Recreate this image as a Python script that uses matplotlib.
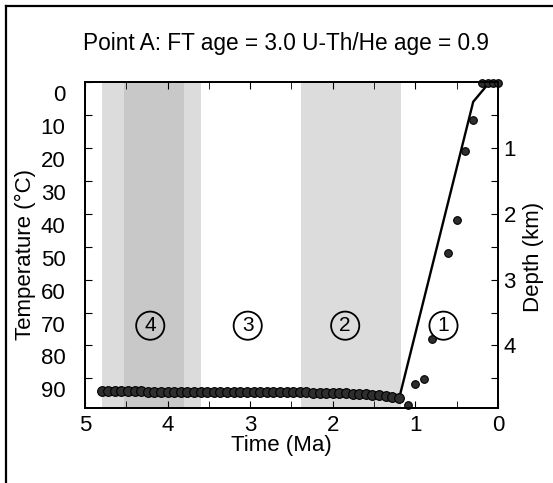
import matplotlib
matplotlib.use("Agg")
from matplotlib import pyplot as plt
from matplotlib.transforms import ScaledTranslation
from matplotlib.lines import Line2D
import numpy as np

plt.rcParams['font.family'] = ['Liberation Sans', 'DejaVu Sans']

# modelled cooling path (solid line)
path_time = [1.19, 0.30, 0.10]
path_temp = [95.4, 6.0, 0.0]

# predicted points, flat part (time in Ma, temperature in C)
flat_time = [4.80, 4.72, 4.64, 4.56, 4.48, 4.40, 4.32, 4.24, 4.16, 4.08,
             4.00, 3.92, 3.84, 3.76, 3.68, 3.60, 3.52, 3.44, 3.36, 3.28,
             3.20, 3.12, 3.04, 2.96, 2.88, 2.80, 2.72, 2.64, 2.56, 2.48,
             2.40, 2.32, 2.24, 2.16, 2.08, 2.00, 1.92, 1.84, 1.76, 1.68,
             1.60, 1.52, 1.44, 1.36, 1.28, 1.20]
flat_temp = [93.8, 93.8, 93.9, 93.9, 93.9, 93.9, 93.9, 94.0, 94.0, 94.0,
             94.0, 94.0, 94.0, 94.0, 94.0, 94.0, 94.0, 94.0, 94.1, 94.1,
             94.1, 94.1, 94.1, 94.1, 94.1, 94.1, 94.2, 94.2, 94.2, 94.2,
             94.2, 94.2, 94.3, 94.3, 94.3, 94.4, 94.4, 94.5, 94.6, 94.7,
             94.8, 95.0, 95.2, 95.4, 95.7, 96.0]

# predicted points, exhumation part
exh_time = [1.09, 1.00, 0.89, 0.80, 0.60, 0.50, 0.40, 0.30, 0.19, 0.12, 0.06, 0.0]
exh_temp = [98.0, 91.7, 90.1, 77.9, 51.8, 41.8, 21.1, 11.5, 0.2, 0.2, 0.2, 0.2]

# stage bands and labels
bands = [(4.80, 3.60), (2.38, 1.18)]
inner_band = (4.53, 3.80)
stage_labels = ['4', '3', '2', '1']
stage_time = [4.21, 3.03, 1.85, 0.66]
stage_temp = 74

temp_ticks = [0, 10, 20, 30, 40, 50, 60, 70, 80, 90]
depth_ticks = [0.5, 1, 1.5, 2, 2.5, 3, 3.5, 4, 4.5]
depth_labels = ['', '1', '', '2', '', '3', '', '4', '']
gradient = 20.0  # C per km

W, H = 553, 483
fig = plt.figure(figsize=(W / 100, H / 100), dpi=100)

# frame around the figure (only top and left show in the original)
fig.add_artist(Line2D([6 / W, 6 / W], [0, 1 - 6 / H], color='black', lw=1.6))
fig.add_artist(Line2D([6 / W, 1], [1 - 6 / H, 1 - 6 / H], color='black', lw=1.6))

ax = fig.add_axes([85 / W, 1 - 408 / H, 413 / W, 326 / H])

for b in bands:
    ax.axvspan(b[0], b[1], color='#dcdcdc', lw=0, zorder=0)
ax.axvspan(inner_band[0], inner_band[1], color='#c8c8c8', lw=0, zorder=0)

ax.plot(path_time, path_temp, color='black', lw=1.7, zorder=3)
ax.plot(flat_time, flat_temp, 'o', ms=7, mfc='#2e2e2e', mec='black', mew=0.8, zorder=4)
ax.plot(exh_time, exh_temp, 'o', ms=5.5, mfc='#2e2e2e', mec='black', mew=0.8,
        zorder=4, clip_on=False)

for lab, t in zip(stage_labels, stage_time):
    ax.text(t, stage_temp, lab, ha='center', va='center', fontsize=15,
            bbox=dict(boxstyle='circle,pad=0.22', fc='none', ec='black', lw=1.3))

ax.set_xlim(5, 0)
ax.set_ylim(99, 0)
ax.set_xticks([5, 4, 3, 2, 1, 0])
ax.set_xticks([4.5, 3.5, 2.5, 1.5, 0.5], minor=True)
ax.set_yticks(temp_ticks)
ax.tick_params(axis='x', which='both', direction='in', top=True, length=5,
               labelsize=16, pad=5)
ax.tick_params(axis='y', direction='in', length=5, labelsize=16, pad=14)
# left labels sit a little below their ticks in the original
for lab in ax.get_yticklabels():
    lab.set_transform(lab.get_transform() + ScaledTranslation(0, -11 / 100, fig.dpi_scale_trans))

ax2 = ax.twinx()
ax2.set_ylim(99 / gradient, 0)
ax2.set_yticks(depth_ticks)
ax2.set_yticklabels(depth_labels)
ax2.tick_params(axis='y', direction='in', length=5, labelsize=16, pad=4)

for a in (ax, ax2):
    for s in a.spines.values():
        s.set_linewidth(1.3)

fig.text(286 / W, 1 - 50 / H, 'Point A: FT age = 3.0 U-Th/He age = 0.9',
         ha='center', va='baseline', fontsize=16.3)
fig.text(281 / W, 1 - 445 / H, 'Time (Ma)', ha='center', va='center', fontsize=16)
fig.text(25 / W, 1 - 254 / H, 'Temperature (°C)', ha='center', va='center',
         rotation=90, fontsize=16)
fig.text(533 / W, 1 - 257 / H, 'Depth (km)', ha='center', va='center',
         rotation=90, fontsize=16)

fig.savefig('out.png', dpi=100)
